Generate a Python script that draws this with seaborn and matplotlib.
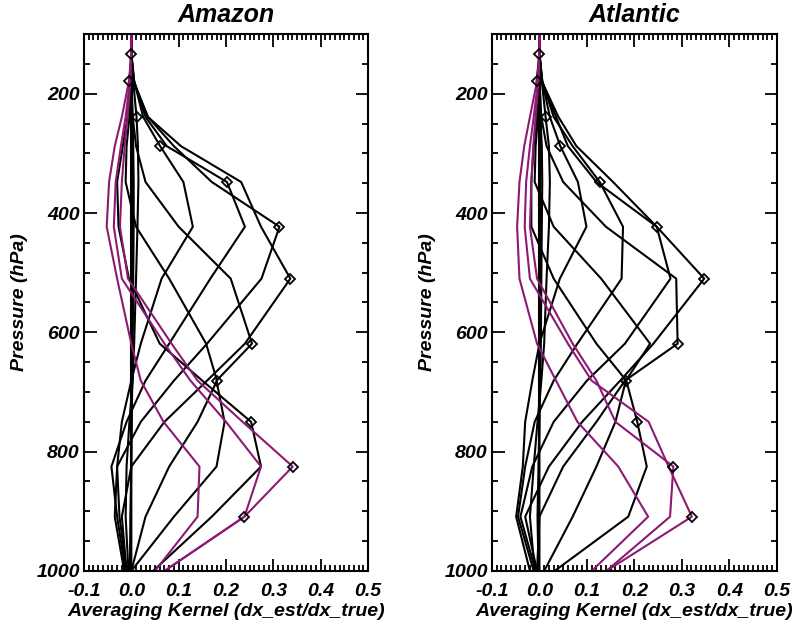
"""
Averaging kernel rows over the Amazon and the Atlantic
"""
import matplotlib.pyplot as plt
import matplotlib.ticker as ticker
import seaborn as sns

# pressure levels (hPa) of the retrieval grid
pressure = [100, 133, 179, 239, 288, 348, 423, 510, 619, 681, 750, 825, 909, 1000]

# one row of the averaging kernel matrix per level
amazon_kernel = [
    [0, 0, 0, 0, 0, 0, 0, 0, 0, 0, 0, 0, 0, 0],
    [0, 0.0, 0.001, 0.002, 0.002, 0.002, 0.002, 0.002, 0.001, 0.001, 0, 0, 0, 0],
    [0, 0.0, -0.004, 0.002, 0.004, 0.005, 0.005, 0.004, 0.003, 0.002, 0.001, 0, -0.002, -0.003],
    [0, 0.0, 0.004, 0.011, 0.014, 0.015, 0.013, 0.01, 0.006, 0.003, -0.004, -0.01, -0.012, -0.006],
    [0, 0.0, 0.006, 0.025, 0.061, 0.11, 0.13, 0.064, 0.02, 0.0, -0.02, -0.03, -0.025, -0.01],
    [0, 0.0, 0.006, 0.03, 0.075, 0.202, 0.24, 0.167, 0.08, 0.03, -0.01, -0.042, -0.03, -0.012],
    [0, 0.0, 0.005, 0.035, 0.09, 0.17, 0.313, 0.275, 0.16, 0.09, 0.02, -0.03, -0.035, -0.015],
    [0, 0.0, 0.004, 0.035, 0.105, 0.232, 0.274, 0.336, 0.24, 0.16, 0.07, 0.0, -0.02, -0.01],
    [0, 0, 0, 0.003, 0.01, 0.03, 0.1, 0.21, 0.255, 0.18, 0.197, 0.18, 0.09, 0.0],
    [0, 0, 0, -0.004, -0.01, -0.012, 0.01, 0.08, 0.158, 0.181, 0.14, 0.08, 0.03, 0.0],
    [0, 0, 0, -0.008, -0.018, -0.03, -0.027, -0.005, 0.06, 0.15, 0.253, 0.274, 0.17, 0.046],
    [0, 0, -0.002, -0.008, -0.014, -0.02, -0.024, -0.007, 0.085, 0.14, 0.235, 0.341, 0.239, 0.07],
    [0, 0, -0.003, -0.012, -0.022, -0.033, -0.037, -0.02, 0.07, 0.125, 0.2, 0.274, 0.239, 0.07],
    [0, 0, -0.005, -0.02, -0.035, -0.047, -0.052, -0.03, 0.0, 0.02, 0.068, 0.144, 0.14, 0.05],
]

atlantic_kernel = [
    [0, 0, 0, 0, 0, 0, 0, 0, 0, 0, 0, 0, 0, 0],
    [0, 0, 0.001, 0.002, 0.002, 0.002, 0.002, 0.002, 0.001, 0, 0, 0, 0, 0],
    [0, 0, -0.006, 0.002, 0.005, 0.006, 0.005, 0.004, 0.003, 0.002, 0, -0.002, -0.004, -0.002],
    [0, 0, 0.005, 0.013, 0.02, 0.022, 0.02, 0.015, 0.01, 0.004, -0.004, -0.012, -0.02, -0.01],
    [0, 0, 0.006, 0.022, 0.044, 0.081, 0.099, 0.043, 0.0, -0.015, -0.03, -0.035, -0.049, -0.02],
    [0, 0, 0.006, 0.03, 0.07, 0.127, 0.176, 0.173, 0.08, 0.03, -0.01, -0.03, -0.045, -0.012],
    [0, 0, 0.005, 0.035, 0.06, 0.12, 0.247, 0.276, 0.18, 0.1, 0.03, -0.015, -0.04, -0.008],
    [0, 0, 0.005, 0.04, 0.078, 0.155, 0.247, 0.347, 0.24, 0.17, 0.09, 0.02, -0.03, -0.005],
    [0, 0, 0, 0.004, 0.015, 0.05, 0.14, 0.288, 0.291, 0.18, 0.12, 0.05, 0.0, -0.005],
    [0, 0, 0, -0.003, -0.008, -0.01, 0.03, 0.13, 0.233, 0.182, 0.16, 0.12, 0.07, 0.01],
    [0, 0, 0, -0.006, -0.012, -0.017, -0.017, 0.03, 0.12, 0.183, 0.206, 0.226, 0.187, 0.032],
    [0, 0, -0.002, -0.008, -0.013, -0.017, -0.02, -0.005, 0.07, 0.12, 0.16, 0.282, 0.275, 0.141],
    [0, 0, -0.003, -0.012, -0.02, -0.028, -0.031, -0.02, 0.06, 0.11, 0.23, 0.272, 0.321, 0.141],
    [0, 0, -0.005, -0.02, -0.032, -0.042, -0.047, -0.042, -0.005, 0.035, 0.08, 0.166, 0.229, 0.11],
]

titles = ['Amazon', 'Atlantic']
kernels = [amazon_kernel, atlantic_kernel]
lowest_rows = [11, 12, 13]  # boundary layer rows, drawn in magenta
magenta = '#8c1a72'

sns.set_style('ticks')
plt.rcParams['font.family'] = ['Liberation Sans Narrow', 'Liberation Sans', 'DejaVu Sans']
for key in ['text.color', 'axes.labelcolor', 'xtick.color', 'ytick.color', 'axes.edgecolor']:
    plt.rcParams[key] = 'black'
bold_it = {'fontweight': 'bold', 'fontstyle': 'italic'}

fig = plt.figure(figsize=(7.96, 6.30), dpi=100)
ax_list = [fig.add_axes([0.1055, 0.0937, 0.3568, 0.8523]),
           fig.add_axes([0.618, 0.0937, 0.358, 0.8523])]

for ax, title, kernel in zip(ax_list, titles, kernels):
    for k, row in enumerate(kernel):
        if k in lowest_rows:
            continue
        sns.lineplot(x=row, y=pressure, sort=False, estimator=None,
                     color='black', lw=1.5, ax=ax)
    for k in lowest_rows:
        sns.lineplot(x=kernel[k], y=pressure, sort=False, estimator=None,
                     color=magenta, lw=1.5, ax=ax)

    # diagonal element of each row
    diag = [kernel[k][k] for k in range(1, len(pressure) - 1)]
    ax.plot(diag, pressure[1:-1], 'D', ls='none', mfc='none', mec='black',
            ms=5.5, mew=1.3, zorder=5)

    ax.set_xlim(-0.1, 0.5)
    ax.set_ylim(1000, 100)
    ax.xaxis.set_major_locator(ticker.MultipleLocator(0.1))
    ax.xaxis.set_minor_locator(ticker.MultipleLocator(0.01))
    ax.xaxis.set_major_formatter(ticker.FormatStrFormatter('%.1f'))
    ax.set_yticks([200, 400, 600, 800, 1000])
    ax.yaxis.set_minor_locator(ticker.MultipleLocator(50))
    ax.tick_params(which='both', direction='in', top=True, right=True, width=1.3)
    ax.tick_params(which='major', length=9)
    ax.tick_params(which='minor', length=4.5)
    ax.tick_params(axis='x', pad=9)
    ax.tick_params(axis='y', pad=3)
    for lab in ax.get_xticklabels() + ax.get_yticklabels():
        lab.set_fontsize(14)
        lab.set_fontweight('bold')
        lab.set_fontstyle('italic')
    for sp in ax.spines.values():
        sp.set_linewidth(1.5)

    ax.set_title(title, fontsize=18, pad=9, **bold_it)
    ax.set_xlabel('Averaging Kernel (dx_est/dx_true)', fontsize=14, labelpad=2, **bold_it)
    ax.set_ylabel('Pressure (hPa)', fontsize=14, labelpad=6, **bold_it)

fig.savefig('out.png', dpi=100)
